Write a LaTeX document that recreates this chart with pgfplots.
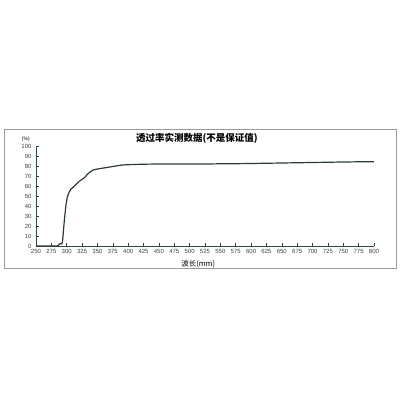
\documentclass[border=0pt]{standalone}
\usepackage{pgfplots}
\pgfplotsset{compat=1.18}
\usepackage{fontspec}
\setmainfont{Liberation Sans}
\newfontfamily\cjk{Noto Sans CJK SC}
\definecolor{curvecol}{HTML}{2B3A3A}
\definecolor{axiscol}{HTML}{2E4848}
\definecolor{framecol}{HTML}{9A9A9A}

\pgfplotstableread{
wl   t
250  0
284  0
286  0.5
288  2
290  2.5
292  2
293  4
294  10
295  18
297  31
299  42
301  49
304  54
307  57
311  59
316  62
321  65
326  67
330  69
334  72
338  74
343  76
350  77
360  78
370  79
380  80
390  81
400  81.3
425  81.8
450  82
475  82
500  81.9
525  82
550  82.2
575  82.3
600  82.5
650  83
700  83.5
750  84
775  84.2
800  84.2
}\transmission

\begin{document}
\begin{tikzpicture}
\path (0,0) rectangle (400pt,400pt);
\draw[framecol, line width=0.8pt] (4pt,132pt) rectangle (396pt,271pt);
\node[font=\fontsize{9.5}{10}\selectfont\cjk\bfseries, anchor=center] at (197pt,262pt) {透过率实测数据(不是保证值)};
\begin{axis}[
    at={(36pt,154pt)}, anchor=south west,
    scale only axis, width=338pt, height=100pt,
    xmin=250, xmax=800, ymin=0, ymax=100,
    axis lines*=left,
    axis line style={axiscol, line width=0.9pt},
    xtick={250,275,...,800}, ytick={0,10,...,100},
    tick align=inside, major tick length=3pt,
    tick style={axiscol, line width=0.6pt},
    /pgf/number format/assume math mode=true,
    /pgf/number format/1000 sep={},
    tick label style={font=\fontsize{6}{7}\selectfont, text=black!75},
    yticklabel style={xshift=-1pt},
    xlabel={\cjk 波长(mm)},
    xlabel style={at={(axis description cs:0.48,-0.18)}, anchor=center, font=\fontsize{7.5}{8}\selectfont},
    ylabel={(\%)},
    ylabel style={at={(axis description cs:-0.03,1.07)}, anchor=center, rotate=-90, font=\fontsize{5}{6}\selectfont},
    clip=false,
]
\addplot[curvecol, line width=1.2pt, line join=round] table[x=wl, y=t] {\transmission};
\end{axis}
\end{tikzpicture}
\end{document}
